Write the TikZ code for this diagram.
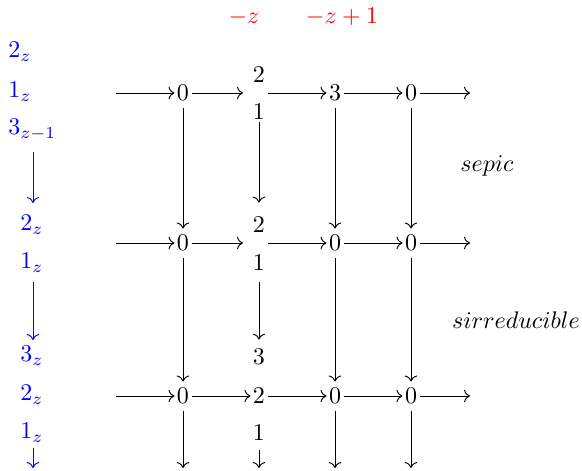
\documentclass[tikz,border=0pt]{standalone}
\usetikzlibrary{cd}
\begin{document}
\begin{tikzpicture}[x=0.41667pt,y=-0.41667pt,
  num/.style={inner sep=0pt, minimum width=6.7pt, minimum height=11.7pt},
  bl/.style={inner sep=0pt, text=blue},
  rl/.style={inner sep=0pt, text=red},
  ar/.style={-{cm to}, line width=0.4pt},
  bar/.style={-{cm to}, line width=0.4pt, draw=blue}]
\useasboundingbox (0,0) rectangle (582,471);
% red labels
\node[rl] (r1) at (244,17) {$-z$};
\node[rl] (r2) at (342,17) {$-z+1$};
% side labels
\node[inner sep=0pt] (sep) at (487,166) {$sepic$};
\node[inner sep=0pt] (sirr) at (516,320) {$sirreducible$};
% blue labels
\node[bl, anchor=west] (b11) at (8,52) {$2_z$};
\node[bl, anchor=west] (b12) at (8,92) {$1_z$};
\node[bl, anchor=west] (b13) at (8,130) {$3_{z-1}$};
\node[bl] (b21) at (32,225) {$2_z$};
\node[bl] (b22) at (32,263) {$1_z$};
\node[bl] (b31) at (32,356) {$3_z$};
\node[bl] (b32) at (32,395) {$2_z$};
\node[bl] (b33) at (32,433) {$1_z$};
\coordinate (ba1s) at (33,152); \coordinate (ba1e) at (33,203);
\coordinate (ba2s) at (33,282); \coordinate (ba2e) at (33,340);
\coordinate (ba3s) at (33,448); \coordinate (ba3e) at (33,468);
\draw[bar] (ba1s) -- (ba1e);
\draw[bar] (ba2s) -- (ba2e);
\draw[bar] (ba3s) -- (ba3e);
% row 1
\node[num] (a11) at (183,93) {$0$};
\node[num] (a12t) at (259,75) {$2$};
\node[num] (a12b) at (259,112) {$1$};
\node[num] (a13) at (335,93) {$3$};
\node[num] (a14) at (411,93) {$0$};
\coordinate (a12w) at (243,93); \coordinate (a12e) at (268,93);
\coordinate (l1) at (116,93); \coordinate (e1) at (470,93);
% row 2
\node[num] (a21) at (183,243) {$0$};
\node[num] (a22t) at (259,225) {$2$};
\node[num] (a22b) at (259,263) {$1$};
\node[num] (a23) at (335,243) {$0$};
\node[num] (a24) at (411,243) {$0$};
\coordinate (a22w) at (243,243); \coordinate (a22e) at (268,243);
\coordinate (l2) at (116,243); \coordinate (e2) at (470,243);
% row 3
\node[num] (a31) at (183,396) {$0$};
\node[num] (a32t) at (259,357) {$3$};
\node[num] (a32) at (259,396) {$2$};
\node[num] (a32b) at (259,433) {$1$};
\node[num] (a33) at (335,396) {$0$};
\node[num] (a34) at (411,396) {$0$};
\coordinate (l3) at (116,396); \coordinate (e3) at (470,396);
\coordinate (d1) at (183,468); \coordinate (d2) at (259,468);
\coordinate (d3) at (335,468); \coordinate (d4) at (411,468);
% horizontal arrows
\draw[ar] (l1) -- (a11);
\draw[ar] (a11) -- (a12w);
\draw[ar] (a12e) -- (a13);
\draw[ar] (a13) -- (a14);
\draw[ar] (a14) -- (e1);
\draw[ar] (l2) -- (a21);
\draw[ar] (a21) -- (a22w);
\draw[ar] (a22e) -- (a23);
\draw[ar] (a23) -- (a24);
\draw[ar] (a24) -- (e2);
\draw[ar] (l3) -- (a31);
\draw[ar] (a31) -- (a32);
\draw[ar] (a32) -- (a33);
\draw[ar] (a33) -- (a34);
\draw[ar] (a34) -- (e3);
% vertical arrows
\draw[ar] (a11) -- (a21);
\draw[ar, shorten <=-1.7pt, shorten >=3.3pt] (a12b) -- (a22t);
\draw[ar] (a13) -- (a23);
\draw[ar] (a14) -- (a24);
\draw[ar] (a21) -- (a31);
\draw[ar, shorten <=2pt, shorten >=1.2pt] (a22b) -- (a32t);
\draw[ar] (a23) -- (a33);
\draw[ar] (a24) -- (a34);
\draw[ar] (a31) -- (d1);
\draw[ar, shorten <=1pt] (a32b) -- (d2);
\draw[ar] (a33) -- (d3);
\draw[ar] (a34) -- (d4);
\end{tikzpicture}
\end{document}
